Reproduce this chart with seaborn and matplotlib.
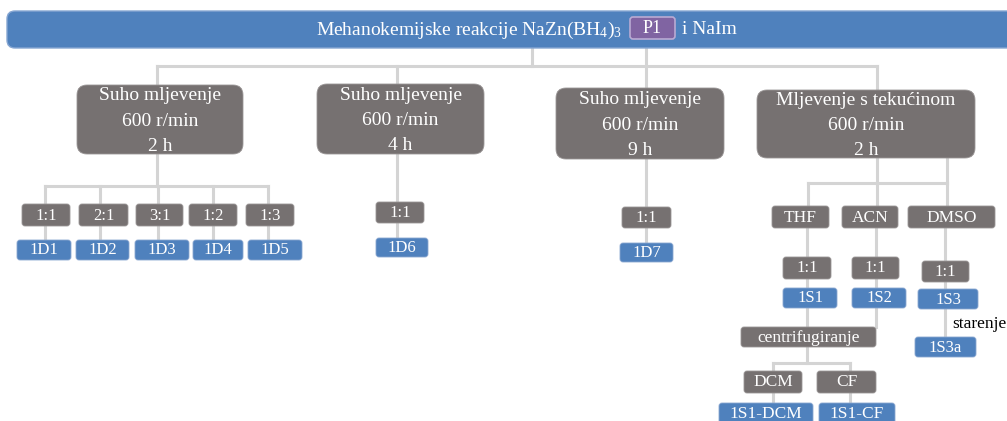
"""
Flow diagram: mechanochemical reactions of NaZn(BH4)3 (P1) with NaIm.
"""

import matplotlib
matplotlib.use('Agg')
import matplotlib.pyplot as plt
from matplotlib.patches import FancyBboxPatch
import pandas as pd
import seaborn as sns

sns.set_theme(style='white')
plt.rcParams['font.family'] = ['Liberation Serif', 'DejaVu Serif']
plt.rcParams['mathtext.default'] = 'regular'

BLUE = '#4f81bd'
GRAY = '#767171'
LINE = '#d4d4d4'
PURPLE = '#8064a2'

# ---- data (labels of the scheme) ----
title_left = 'Mehanokemijske reakcije NaZn(BH$_4$)$_3$'
title_tag = 'P1'
title_right = 'i NaIm'

mill_method = ['Suho mljevenje', 'Suho mljevenje', 'Suho mljevenje', 'Mljevenje s tekućinom']
mill_speed = [600, 600, 600, 600]   # r/min
mill_time = [2, 4, 9, 2]            # h

dry_ratios = ['1:1', '2:1', '3:1', '1:2', '1:3']
dry_samples = ['1D1', '1D2', '1D3', '1D4', '1D5']
long_ratios = ['1:1', '1:1']        # 4 h and 9 h runs
long_samples = ['1D6', '1D7']

solvents = ['THF', 'ACN', 'DMSO']
solvent_ratios = ['1:1', '1:1', '1:1']
solvent_samples = ['1S1', '1S2', '1S3']
post_step = 'centrifugiranje'
wash_solvents = ['DCM', 'CF']
wash_samples = ['1S1-DCM', '1S1-CF']
aging_label = 'starenje'
aged_sample = '1S3a'

# ---- layout in pixels (x0, y0, x1, y1), y grows downward ----
TOP_BAR = (7, 11, 1030, 48)
TAG_BOX = (630, 17, 675, 39)
MILL_BOX = [(77, 85, 243, 154), (317, 84, 484, 154),
            (556, 88, 724, 159), (757, 90, 975, 158)]
DRY_RATIO_BOX = [(22, 204, 70, 226), (79, 204, 128, 226), (136, 204, 183, 226),
                 (189, 204, 237, 226), (246, 204, 294, 226)]
DRY_SAMPLE_BOX = [(17, 240, 71, 260), (76, 240, 129, 260), (135, 240, 189, 260),
                  (193, 240, 243, 260), (248, 240, 302, 260)]
LONG_RATIO_BOX = [(376, 202, 424, 223), (622, 207, 671, 228)]
LONG_SAMPLE_BOX = [(376, 238, 428, 257), (620, 243, 673, 262)]
SOLVENT_BOX = [(772, 206, 829, 228), (842, 206, 898, 228), (908, 206, 995, 228)]
SOLV_RATIO_BOX = [(783, 257, 831, 279), (852, 257, 899, 279), (922, 261, 969, 282)]
SOLV_SAMPLE_BOX = [(783, 288, 837, 308), (852, 288, 906, 308), (918, 289, 978, 309)]
POST_BOX = (741, 327, 876, 347)
WASH_BOX = [(744, 371, 802, 393), (817, 371, 876, 393)]
WASH_SAMPLE_BOX = [(719, 403, 813, 427), (819, 403, 895, 427)]
AGED_BOX = (915, 337, 976, 357)

CONNECTORS = [
    ((532, 48), (532, 66)), ((646, 48), (646, 88)), ((157, 66), (877, 66)),
    ((157, 66), (157, 85)), ((397, 66), (397, 84)), ((877, 66), (877, 90)),
    ((157, 154), (157, 186)), ((45, 186), (268, 186)),
    ((45, 186), (45, 240)), ((100, 186), (100, 240)), ((158, 186), (158, 240)),
    ((213, 186), (213, 240)), ((268, 186), (268, 240)),
    ((397, 154), (397, 238)), ((646, 159), (646, 243)),
    ((877, 158), (877, 183)), ((947, 158), (947, 183)), ((808, 183), (947, 183)),
    ((808, 183), (808, 206)), ((877, 183), (877, 206)), ((947, 183), (947, 206)),
    ((807, 228), (807, 327)), ((876, 228), (876, 327)), ((945, 228), (945, 337)),
    ((807, 347), (807, 363)), ((773, 363), (850, 363)),
    ((773, 363), (773, 403)), ((850, 363), (850, 403)),
]


def draw_box(ax, rect, text, color, size, radius=3, edge='#9a9696', lw=0.6,
             spacing=1.2, dy=0.5):
    x0, y0, x1, y1 = rect
    patch = FancyBboxPatch((x0, y0), x1 - x0, y1 - y0,
                           boxstyle=f'round,pad=0,rounding_size={radius}',
                           fc=color, ec=edge, lw=lw, zorder=3)
    ax.add_patch(patch)
    if text:
        ax.text((x0 + x1) / 2, (y0 + y1) / 2 + dy, text, color='white',
                fontsize=size, ha='center', va='center', zorder=4,
                linespacing=spacing)


fig = plt.figure(figsize=(10.07, 4.21), dpi=100)
ax = fig.add_axes([0, 0, 1, 1])

# connectors through seaborn
rows = []
for i, (p0, p1) in enumerate(CONNECTORS):
    rows.append({'seg': i, 'order': 0, 'x': p0[0], 'y': p0[1]})
    rows.append({'seg': i, 'order': 1, 'x': p1[0], 'y': p1[1]})
seg_df = pd.DataFrame(rows)
sns.lineplot(data=seg_df, x='x', y='y', units='seg', estimator=None, sort=False,
             color=LINE, linewidth=2.2, ax=ax, zorder=1,
             solid_capstyle='projecting')

# title bar
draw_box(ax, TOP_BAR, None, BLUE, 14, radius=8, edge='#86a6d2', lw=1.0)
ax.text(622, 30, title_left, color='white', fontsize=14, ha='right',
        va='center', zorder=4)
draw_box(ax, TAG_BOX, title_tag, PURPLE, 13, radius=3, edge='#b9aad3', lw=1.2)
ax.text(682, 30, title_right, color='white', fontsize=14, ha='left',
        va='center', zorder=4)

# milling conditions
for rect, m, s, t in zip(MILL_BOX, mill_method, mill_speed, mill_time):
    draw_box(ax, rect, f'{m}\n{s} r/min\n{t} h', GRAY, 14, radius=10,
             spacing=1.65, dy=1.5)

# dry milling, 2 h
for rect, r in zip(DRY_RATIO_BOX, dry_ratios):
    draw_box(ax, rect, r, GRAY, 12)
for rect, s in zip(DRY_SAMPLE_BOX, dry_samples):
    draw_box(ax, rect, s, BLUE, 12, edge='#8aa7d0')

# dry milling, 4 h and 9 h
for rect, r in zip(LONG_RATIO_BOX, long_ratios):
    draw_box(ax, rect, r, GRAY, 12)
for rect, s in zip(LONG_SAMPLE_BOX, long_samples):
    draw_box(ax, rect, s, BLUE, 12, edge='#8aa7d0')

# liquid assisted milling
for rect, s in zip(SOLVENT_BOX, solvents):
    draw_box(ax, rect, s, GRAY, 12.5)
for rect, r in zip(SOLV_RATIO_BOX, solvent_ratios):
    draw_box(ax, rect, r, GRAY, 12)
for rect, s in zip(SOLV_SAMPLE_BOX, solvent_samples):
    draw_box(ax, rect, s, BLUE, 12, edge='#8aa7d0')
draw_box(ax, POST_BOX, post_step, GRAY, 12.5)
for rect, w in zip(WASH_BOX, wash_solvents):
    draw_box(ax, rect, w, GRAY, 12.5)
for rect, s in zip(WASH_SAMPLE_BOX, wash_samples):
    draw_box(ax, rect, s, BLUE, 12.5, edge='#8aa7d0', dy=-0.5)
draw_box(ax, AGED_BOX, aged_sample, BLUE, 12, edge='#8aa7d0')
ax.text(952, 324, aging_label, color='black', fontsize=12.5, ha='left',
        va='center', zorder=4)

ax.set_xlim(0, 1007)
ax.set_ylim(421, 0)
ax.set_axis_off()
if ax.get_legend():
    ax.get_legend().remove()

fig.savefig('out.png', dpi=100)
plt.close(fig)
